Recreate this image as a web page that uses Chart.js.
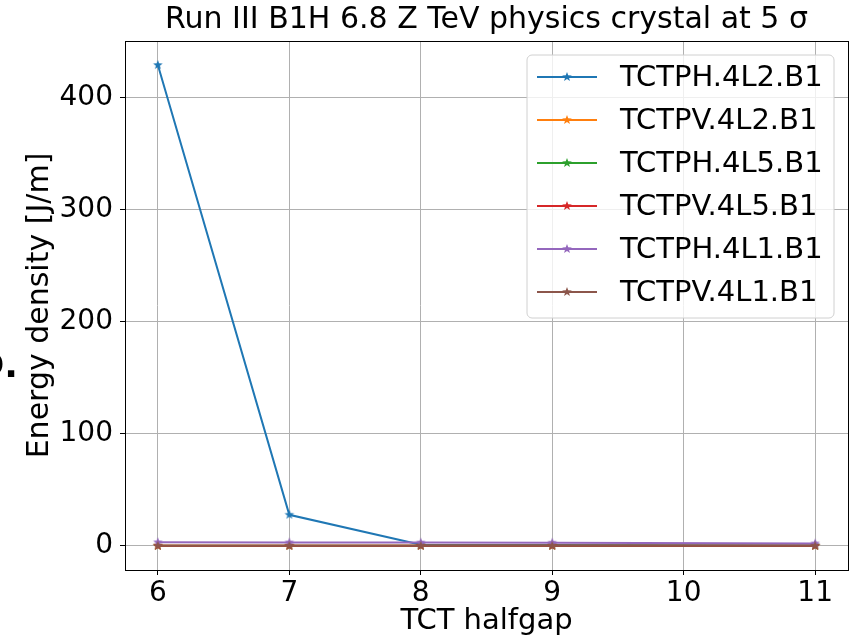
<!DOCTYPE html>
<html>
<head>
<meta charset="utf-8">
<script src="https://cdn.jsdelivr.net/npm/chart.js@4/dist/chart.umd.min.js"></script>
<style>
  html, body { margin: 0; padding: 0; background: #fff; }
  #wrap { width: 858px; height: 639px; }
</style>
</head>
<body>
<div id="wrap"><canvas id="canvas"></canvas></div>
<script>
  // halfgap values (x) and energy density per TCT
  var halfgap = [6, 7, 8, 9, 11];
  var tctphL2 = [429, 27.8, 1.0, 0.8, 0.5];
  var tctpvL2 = [0.1, 0.1, 0.1, 0.1, 0.1];
  var tctphL5 = [0.1, 0.1, 0.1, 0.1, 0.1];
  var tctpvL5 = [0.1, 0.1, 0.1, 0.1, 0.1];
  var tctphL1 = [3.2, 3.1, 3.0, 2.9, 2.2];
  var tctpvL1 = [0.2, 0.2, 0.2, 0.2, 0.2];

  var seriesNames = ['TCTPH.4L2.B1', 'TCTPV.4L2.B1', 'TCTPH.4L5.B1', 'TCTPV.4L5.B1', 'TCTPH.4L1.B1', 'TCTPV.4L1.B1'];
  var seriesColors = ['#1f77b4', '#ff7f0e', '#2ca02c', '#d62728', '#9467bd', '#8c564b'];
  var xTicks = [6, 7, 8, 9, 10, 11];
  var yTicks = [0, 100, 200, 300, 400];

  const FONT = "'DejaVu Sans', sans-serif";
  const ctx = document.getElementById('canvas').getContext('2d');

  // filled 5 point star like matplotlib '*'
  function makeStar(color, r){
    var c = document.createElement('canvas');
    var s = Math.ceil(r * 2 + 2);
    c.width = s; c.height = s;
    var g = c.getContext('2d');
    g.translate(s / 2, s / 2);
    g.beginPath();
    for (var i = 0; i < 10; i++) {
      var rr = (i % 2 == 0) ? r : r * 0.42;
      var a = -Math.PI / 2 + i * Math.PI / 5;
      if (i == 0) g.moveTo(rr * Math.cos(a), rr * Math.sin(a));
      else g.lineTo(rr * Math.cos(a), rr * Math.sin(a));
    }
    g.closePath();
    g.fillStyle = color;
    g.fill();
    return c;
  }

  var sites = [];
  var allData = [tctphL2, tctpvL2, tctphL5, tctpvL5, tctphL1, tctpvL1];
  for (var i = 0; i < allData.length; i++) {
    sites.push({
      label: seriesNames[i],
      data: allData[i].map(function(v, j){ return {x: halfgap[j], y: v}; }),
      borderColor: seriesColors[i],
      backgroundColor: seriesColors[i],
      borderWidth: 2,
      pointStyle: makeStar(seriesColors[i], 5),
      pointRadius: 5,
      tension: 0,
      order: allData.length - i, // later series on top, like matplotlib
    });
  }

  // full black frame round the axes
  const frame = {
    id: 'frame',
    afterDraw(chart){
      var a = chart.chartArea, c = chart.ctx;
      c.save();
      c.strokeStyle = '#000';
      c.lineWidth = 1;
      c.strokeRect(Math.round(a.left) + 0.5, Math.round(a.top) + 0.5, Math.round(a.right - a.left), Math.round(a.bottom - a.top));
      c.restore();
    }
  };

  // matplotlib style legend box
  const mplLegend = {
    id: 'mplLegend',
    afterDatasetsDraw(chart){
      var c = chart.ctx;
      var x0 = 527, y0 = 55, w = 307, h = 263, rowH = 43;
      c.save();
      c.beginPath();
      c.roundRect(x0, y0, w, h, 5);
      c.fillStyle = 'rgba(255,255,255,0.8)';
      c.fill();
      c.strokeStyle = '#d0d0d0';
      c.lineWidth = 1;
      c.stroke();
      c.font = '29px ' + FONT;
      c.textBaseline = 'middle';
      c.fillStyle = '#000';
      chart.data.datasets.forEach(function(ds, i){
        var yy = y0 + 22 + i * rowH;
        c.strokeStyle = ds.borderColor;
        c.lineWidth = 2;
        c.beginPath();
        c.moveTo(537, yy); c.lineTo(597, yy);
        c.stroke();
        c.drawImage(ds.pointStyle, 567 - ds.pointStyle.width / 2, yy - ds.pointStyle.height / 2);
        c.fillText(ds.label, 620, yy + 1);
      });
      c.restore();
    }
  };

  // cropped panel label at left edge
  const cutLabel = {
    id: 'cutLabel',
    afterDraw(chart){
      var c = chart.ctx;
      c.save();
      c.font = 'bold 36px ' + FONT;
      c.textAlign = 'right';
      c.textBaseline = 'alphabetic';
      c.fillStyle = '#000';
      c.fillText('D.', 18, 377);
      c.restore();
    }
  };

  const options = {
    responsive: true,
    maintainAspectRatio: false,
    animation: false,
    layout: { padding: { left: 0, right: 10, top: 0, bottom: 0 } },
    plugins: {
      legend: { display: false },
      tooltip: { enabled: false },
      title: {
        display: true,
        fullSize: false,
        text: 'Run III B1H 6.8 Z TeV physics crystal at 5 σ',
        color: '#000',
        font: { family: FONT, size: 30, weight: 'normal' },
        padding: { top: 2, bottom: 3 },
      },
    },
    scales: {
      x: {
        type: 'linear',
        min: 5.75,
        max: 11.25,
        afterBuildTicks(axis){ axis.ticks = xTicks.map(function(v){ return {value: v}; }); },
        afterFit(axis){ axis.height = 69; },
        ticks: { color: '#000', font: { family: FONT, size: 28 }, padding: 2, maxRotation: 0 },
        grid: { color: '#b0b0b0', lineWidth: 1, tickLength: 5, tickColor: '#000' },
        border: { color: '#000', width: 1 },
        title: { display: true, text: 'TCT halfgap', color: '#000', font: { family: FONT, size: 29 }, padding: { top: 0, bottom: 0 } },
      },
      y: {
        type: 'linear',
        min: -21.45,
        max: 450.45,
        afterBuildTicks(axis){ axis.ticks = yTicks.map(function(v){ return {value: v}; }); },
        afterFit(axis){ axis.width = 125; },
        ticks: { color: '#000', font: { family: FONT, size: 28 }, padding: 7 },
        grid: { color: '#b0b0b0', lineWidth: 1, tickLength: 5, tickColor: '#000' },
        border: { color: '#000', width: 1 },
        title: { display: true, text: 'Energy density [J/m]', color: '#000', font: { family: FONT, size: 30 }, padding: { top: 22, bottom: 0 } },
      },
    },
  };

  const config = {
    type: 'line',
    data: { datasets: sites },
    options: options,
    plugins: [mplLegend, cutLabel, frame],
  };
  var chart = new Chart(ctx, config);
</script>
</body>
</html>
